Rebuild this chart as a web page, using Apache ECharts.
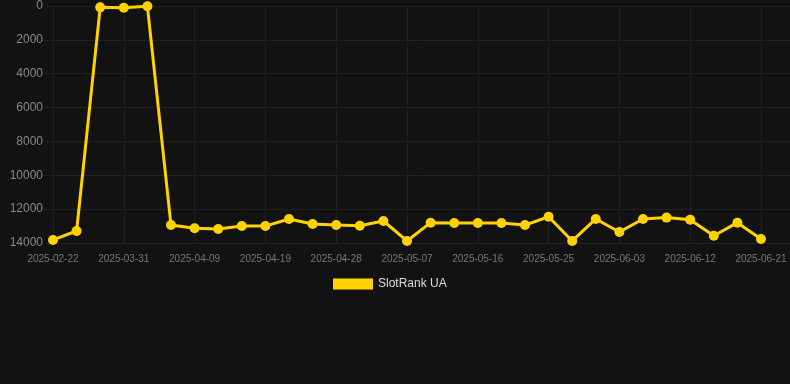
<!DOCTYPE html>
<html>
<head>
<meta charset="utf-8">
<script src="https://cdn.jsdelivr.net/npm/echarts@6/dist/echarts.min.js"></script>
<style>
  html, body { margin: 0; padding: 0; background: #121212; }
  #chart { width: 790px; height: 384px; }
</style>
</head>
<body>
<div id="chart"></div>
<script>
var dateLabels = [
    '2025-02-22', '2025-03-25', '2025-03-28', '2025-03-31', '2025-04-03', '2025-04-06',
    '2025-04-09', '2025-04-12', '2025-04-15', '2025-04-19', '2025-04-22', '2025-04-25',
    '2025-04-28', '2025-05-01', '2025-05-04', '2025-05-07', '2025-05-10', '2025-05-13',
    '2025-05-16', '2025-05-19', '2025-05-22', '2025-05-25', '2025-05-28', '2025-05-31',
    '2025-06-03', '2025-06-06', '2025-06-09', '2025-06-12', '2025-06-15', '2025-06-18',
    '2025-06-21'
];
var rankUA = [
    13820, 13290, 80, 100, 20, 12940,
    13130, 13170, 13000, 13000, 12580, 12880,
    12940, 12980, 12700, 13880, 12800, 12820,
    12820, 12820, 12940, 12450, 13880, 12580,
    13350, 12580, 12500, 12620, 13570, 12800,
    13760
];
var seriesName = 'SlotRank UA';

var dom = document.getElementById('chart');
var chart = echarts.init(dom, null, { width: 790, height: 384 });

var option = {
    backgroundColor: '#121212',
    animation: false,
    textStyle: { fontFamily: 'Arial, "Liberation Sans", sans-serif' },
    grid: [
        { left: 53, right: 29, top: 6, bottom: 141 },
        // wider grid only for the horizontal lines, they run past the plot in the original
        { left: 45, right: 0, top: 6, bottom: 141 }
    ],
    legend: {
        data: [seriesName],
        top: 273,
        left: 328,
        itemWidth: 40,
        itemHeight: 11,
        icon: 'rect',
        textStyle: { color: '#dddddd', fontSize: 12 }
    },
    xAxis: [
        {
            type: 'category',
            boundaryGap: false,
            data: dateLabels,
            axisLine: { show: false },
            axisTick: { show: false },
            axisLabel: {
                interval: 2,
                color: '#777777',
                fontSize: 10,
                margin: 11
            },
            splitLine: {
                show: true,
                interval: 2,
                lineStyle: { color: '#1f1f1f', width: 1 }
            }
        },
        {
            gridIndex: 1,
            type: 'value',
            min: 0,
            max: 1,
            show: false
        }
    ],
    yAxis: [
        {
            type: 'value',
            inverse: true,
            min: 0,
            max: 14000,
            interval: 2000,
            axisLine: { show: false },
            axisTick: { show: false },
            axisLabel: {
                color: '#888888',
                fontSize: 12,
                margin: 10,
                formatter: function (v) { return String(v); }
            },
            splitLine: { show: false }
        },
        {
            gridIndex: 1,
            type: 'value',
            inverse: true,
            min: 0,
            max: 14000,
            interval: 2000,
            axisLine: { show: false },
            axisTick: { show: false },
            axisLabel: { show: false },
            splitLine: { lineStyle: { color: '#222222', width: 1 } }
        }
    ],
    series: [
        {
            name: seriesName,
            type: 'line',
            data: rankUA,
            color: '#ffd200',
            symbol: 'circle',
            symbolSize: 10,
            z: 5,
            lineStyle: { width: 3, color: '#ffd200' },
            itemStyle: { color: '#ffd200' }
        }
    ]
};

chart.setOption(option);
</script>
</body>
</html>
